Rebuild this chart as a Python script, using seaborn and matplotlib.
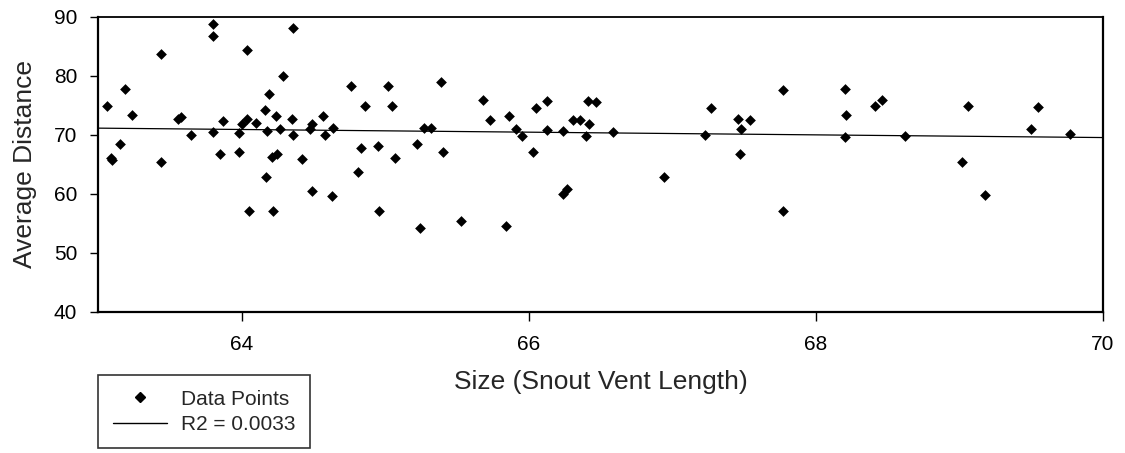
import numpy as np
import pandas as pd
import matplotlib
matplotlib.use("Agg")
import matplotlib.pyplot as plt
import seaborn as sns
from matplotlib.lines import Line2D

# snout vent length (x) and average distance (y)
svl = [63.06, 63.09, 63.10, 63.15, 63.19, 63.24, 63.44, 63.44, 63.56, 63.58,
       63.65, 63.80, 63.80, 63.80, 63.85, 63.87, 63.98, 63.98, 64.00, 64.04,
       64.04, 64.05, 64.10, 64.16, 64.17, 64.18, 64.19, 64.21, 64.22, 64.24,
       64.25, 64.27, 64.29, 64.35, 64.36, 64.36, 64.42, 64.48, 64.49, 64.49,
       64.57, 64.58, 64.63, 64.64, 64.76, 64.81, 64.83, 64.86, 64.95, 64.96,
       65.02, 65.05, 65.07, 65.22, 65.24, 65.27, 65.32, 65.39, 65.40, 65.53,
       65.68, 65.73, 65.84, 65.86, 65.91, 65.95, 66.03, 66.05, 66.13, 66.13,
       66.24, 66.24, 66.27, 66.31, 66.36, 66.40, 66.41, 66.42, 66.47, 66.59,
       66.94, 67.23, 67.27, 67.46, 67.48, 67.47, 67.54, 67.77, 67.77, 68.20,
       68.21, 68.20, 68.41, 68.46, 68.62, 69.02, 69.06, 69.18, 69.50, 69.55,
       69.77]
avg_dist = [74.9, 66.0, 65.7, 68.5, 77.7, 73.3, 83.7, 65.4, 72.7, 73.0,
            70.0, 88.7, 86.8, 70.4, 66.7, 72.3, 70.3, 67.0, 71.9, 84.4,
            72.7, 57.0, 72.0, 74.2, 62.9, 70.7, 76.9, 66.3, 57.0, 73.2,
            66.8, 70.9, 79.9, 72.7, 69.9, 88.1, 65.8, 70.9, 71.9, 60.5,
            73.2, 70.0, 59.6, 71.1, 78.3, 63.7, 67.8, 74.9, 68.1, 57.0,
            78.3, 74.9, 66.0, 68.4, 54.2, 71.1, 71.1, 78.9, 67.1, 55.3,
            75.9, 72.5, 54.6, 73.2, 71.0, 69.8, 67.1, 74.6, 75.7, 70.8,
            70.6, 59.9, 60.8, 72.5, 72.5, 69.8, 75.8, 71.9, 75.5, 70.5,
            62.9, 70.0, 74.6, 72.7, 70.9, 66.8, 72.5, 77.6, 57.1, 77.7,
            73.3, 69.6, 74.9, 75.9, 69.7, 65.3, 74.9, 59.8, 70.9, 74.7,
            70.2]

legend_labels = ["Data Points", "R2 = 0.0033"]
x_ticks = [64, 66, 68, 70]
y_ticks = [40, 50, 60, 70, 80, 90]

df = pd.DataFrame({"svl": svl, "dist": avg_dist})

sns.set_style("ticks")
plt.rcParams["font.family"] = ["Liberation Sans", "DejaVu Sans"]

fig = plt.figure(figsize=(11.25, 4.53), dpi=100)
ax = fig.add_axes([0.0871, 0.312, 0.8933, 0.651])
ax.set_xlim(63, 70)
ax.set_ylim(40, 90)

sns.scatterplot(data=df, x="svl", y="dist", marker="D", s=30, color="black",
                edgecolor="black", linewidth=0, ax=ax)
sns.regplot(data=df, x="svl", y="dist", scatter=False, ci=None, truncate=False,
            color="black", line_kws={"linewidth": 0.9}, ax=ax)

ax.set_xlim(63, 70)
ax.set_ylim(40, 90)
ax.set_xticks(x_ticks)
ax.set_yticks(y_ticks)
ax.tick_params(axis="x", direction="out", length=6.5, width=1, pad=10,
               labelsize=15, colors="black")
ax.tick_params(axis="y", direction="out", length=6, width=1, pad=9,
               labelsize=15, colors="black")

for side in ["left", "bottom", "right"]:
    ax.spines[side].set_linewidth(1.6)
    ax.spines[side].set_color("black")
ax.spines["top"].set_linewidth(1.3)
ax.spines["top"].set_color("black")

ax.set_xlabel("Size (Snout Vent Length)", fontsize=19, labelpad=12)
ax.set_ylabel("Average Distance", fontsize=19, labelpad=12)

handles = [
    Line2D([], [], marker="D", color="black", linestyle="none", markersize=4.8),
    Line2D([], [], color="black", linewidth=1.0),
]
leg = fig.legend(handles, legend_labels, loc="upper left",
                 bbox_to_anchor=(98 / 1125, 1 - 375 / 453),
                 frameon=True, fancybox=False, fontsize=15,
                 handlelength=2.6, handletextpad=0.7, labelspacing=0.3,
                 borderpad=0.7, borderaxespad=0)
leg.get_frame().set_edgecolor("black")
leg.get_frame().set_linewidth(1.2)

fig.savefig("out.png", dpi=100)
